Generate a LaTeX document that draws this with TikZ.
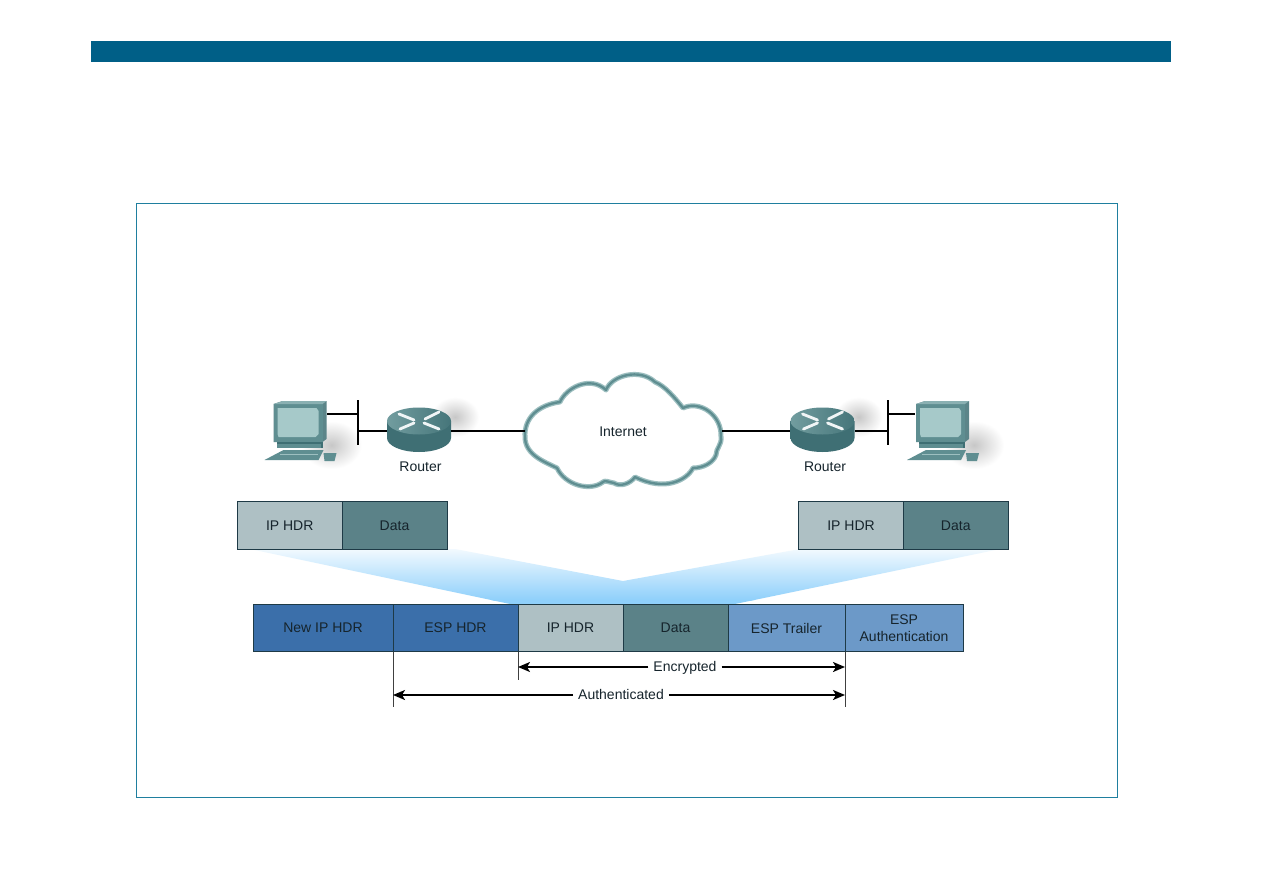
\documentclass[tikz,border=0pt]{standalone}
\usepackage{fontspec}
\setmainfont{Liberation Sans}
\usetikzlibrary{arrows.meta}
\definecolor{barblue}{HTML}{005F87}
\definecolor{framec}{HTML}{1F7F9F}
\definecolor{iphdr}{HTML}{AEC0C4}
\definecolor{datac}{HTML}{5B8288}
\definecolor{espdark}{HTML}{3B6FAA}
\definecolor{esplight}{HTML}{6C99C8}
\definecolor{edge}{HTML}{1E3A46}
\definecolor{inktext}{HTML}{16242C}
\definecolor{fan}{HTML}{8FD0FB}
\definecolor{teal1}{HTML}{5F8E91}
\definecolor{teal2}{HTML}{9DBFC0}
\definecolor{teal3}{HTML}{3F6F74}
\definecolor{screenc}{HTML}{A6C9C9}
\tikzset{
  x=1pt,y=-1pt,
  every node/.style={font=\fontsize{14}{16.5}\selectfont,text=inktext,align=center,inner sep=0pt,outer sep=0pt},
  cell/.style={draw=edge,line width=1pt,minimum height=47.5pt,anchor=west},
  iphdrbox/.style={cell,fill=iphdr,minimum width=105pt},
  databox/.style={cell,fill=datac,minimum width=105pt},
  wire/.style={line width=2pt,black},
  tick/.style={line width=.9pt,draw=black!75},
  halfspan/.style={line width=1.8pt,black,-{Stealth[length=12pt,width=10pt,inset=3pt]}},
  spanlabel/.style={inner xsep=5pt,text height=12pt,text depth=4pt},
  slot/.style={minimum width=#1,minimum height=40pt},
  softshadow/.style={inner color=black!22,outer color=white,draw=none},
}
\newcommand{\routershape}[2]{%
  \begin{scope}[shift={(#1,#2)}]
    \shade[softshadow] (36,-4) ellipse (24 and 20);
    \shade[left color=teal3,middle color=teal2,right color=teal3]
      (-32,0) -- (-32,17) arc[start angle=180,end angle=360,x radius=32,y radius=-14] -- (32,0) -- cycle;
    \shade[left color=teal1!70!teal2,right color=teal3!80!teal1]
      (0,0) ellipse (32 and 13.5);
    \draw[line width=2.8pt,white!85!teal2,line cap=round]
      (-20,-7) -- (-5,-1) (20,-9) -- (6,-2) (-19,8) -- (-5,2) (20,8) -- (5,2);
  \end{scope}}
\newcommand{\pcshape}[2]{%
  \begin{scope}[shift={(#1,#2)}]
    \shade[softshadow] (58,44) ellipse (30 and 24);
    \fill[teal3!85] (0,3) -- (9,0) -- (53,0) -- (53,38) -- (49,41) -- (0,41) -- cycle;
    \fill[teal1] (0,3) -- (49,3) -- (49,41) -- (0,41) -- cycle;
    \fill[teal2!70!teal1] (9,0) -- (53,0) -- (49,3) -- (0,3) -- cycle;
    \fill[screenc] (4,7) -- (43,7) -- (45,10) -- (45,33) -- (42,36) -- (5,36) -- (4,33) -- cycle;
    \fill[teal3] (3,41) rectangle (49,47);
    \fill[teal1] (3,43) rectangle (47,47);
    \fill[teal1] (10,49) -- (50,49) -- (45,59) -- (-9,59) -- cycle;
    \draw[teal2,line width=.8pt] (6,53) -- (44,53);
    \fill[teal1] (50,52) -- (63,52) -- (61,60) -- (51,60) -- cycle;
  \end{scope}}
\newcommand{\cloudpath}{(525,437) .. controls (524,418) and (538,405) .. (560,402)
  .. controls (566,388) and (590,375) .. (606,390)
  .. controls (612,375) and (640,368) .. (655,382)
  .. controls (665,386) and (675,398) .. (683,408)
  .. controls (700,400) and (722,415) .. (721,437)
  .. controls (722,445) and (716,448) .. (716,455)
  .. controls (713,463) and (703,468) .. (693,468)
  .. controls (687,480) and (665,492) .. (635,477)
  .. controls (630,484) and (620,487) .. (614,483)
  .. controls (608,482) and (605,480) .. (603,482)
  .. controls (590,492) and (565,485) .. (557,468)
  .. controls (545,462) and (525,455) .. (525,437) -- cycle}
\begin{document}
\begin{tikzpicture}
\useasboundingbox (0,0) rectangle (1263,893);
\fill[white] (0,0) rectangle (1263,893);
\fill[barblue] (91,41) rectangle (1171,62);
\draw[framec,line width=1pt] (136.5,203.5) rectangle (1117.5,797);
% fan
\begin{scope}
  \clip (250,549) -- (455,549) -- (623,581) -- (800,549) -- (1000,549) -- (735,604) -- (510,604) -- cycle;
  \shade[top color=fan!12,bottom color=fan] (240,549) rectangle (1010,600);
  \fill[fan] (240,600) rectangle (1010,604);
\end{scope}
% devices
\pcshape{273.5}{401}
\routershape{419}{421}
\routershape{822.5}{421}
\pcshape{916}{401}
\node[slot=54pt] (pc1) at (300,413.5) {};
\node[slot=64pt] (r1) at (419,431) {};
\node[slot=65pt] (r2) at (822.5,431) {};
\node[slot=54pt] (pc2) at (942,413.5) {};
\node[minimum width=0pt,minimum height=45pt] (hub1) at (357.5,422.5) {};
\node[minimum width=0pt,minimum height=45pt] (hub2) at (888,422.5) {};
\node[minimum width=197pt,minimum height=110pt] (cloud) at (623.5,431) {};
% cloud
\draw[teal2,line width=5pt,fill=white,line join=round] \cloudpath;
\draw[teal1,line width=2.4pt,line join=round] \cloudpath;
\node at (623,431.5) {Internet};
% wires
\draw[wire] (hub1.north) -- (hub1.south);
\draw[wire] (hub2.north) -- (hub2.south);
\draw[wire] (pc1.east) -- (pc1.east -| hub1.center);
\draw[wire] (hub1.center |- r1.west) -- (r1.west);
\draw[wire] (r1.east) -- (cloud.west);
\draw[wire] (cloud.east) -- (r2.west);
\draw[wire] (r2.east) -- (hub2.center |- r2.east);
\draw[wire] (pc2.west) -- (pc2.west -| hub2.center);
\node (lr1) at (420.5,466.5) {Router};
\node (lr2) at (825,466.5) {Router};
% top packets
\node[iphdrbox,minimum width=104.5pt] (a1) at (237.5,525.5) {IP HDR};
\node[databox] (a2) at (a1.east) {Data};
\node[iphdrbox] (b1) at (798.5,525.5) {IP HDR};
\node[databox,minimum width=104.5pt] (b2) at (b1.east) {Data};
% bottom packet
\node[cell,fill=espdark,minimum width=140pt] (c1) at (253,628) {New IP HDR};
\node[cell,fill=espdark,minimum width=125pt] (c2) at (c1.east) {ESP HDR};
\node[iphdrbox] (c3) at (c2.east) {IP HDR};
\node[databox] (c4) at (c3.east) {Data};
\node[cell,fill=esplight,minimum width=117pt] (c5) at (c4.east) {ESP Trailer};
\node[cell,fill=esplight,minimum width=118pt] (c6) at (c5.east) {ESP\\Authentication};
% spans
\node[spanlabel] (enc) at (685,667) {Encrypted};
\node[spanlabel] (auth) at (621,695) {Authenticated};
\coordinate (t2) at (393,707);
\coordinate (t3) at (518,680);
\coordinate (t5) at (845,707);
\draw[tick] (c2.south west) -- (c2.south west |- t2);
\draw[tick] (c3.south west) -- (c3.south west |- t3);
\draw[tick] (c5.south east) -- (c5.south east |- t5);
\draw[halfspan] (enc.west) -- (enc.west -| c3.south west);
\draw[halfspan] (enc.east) -- (enc.east -| c5.south east);
\draw[halfspan] (auth.west) -- (auth.west -| c2.south west);
\draw[halfspan] (auth.east) -- (auth.east -| c5.south east);
\end{tikzpicture}
\end{document}
